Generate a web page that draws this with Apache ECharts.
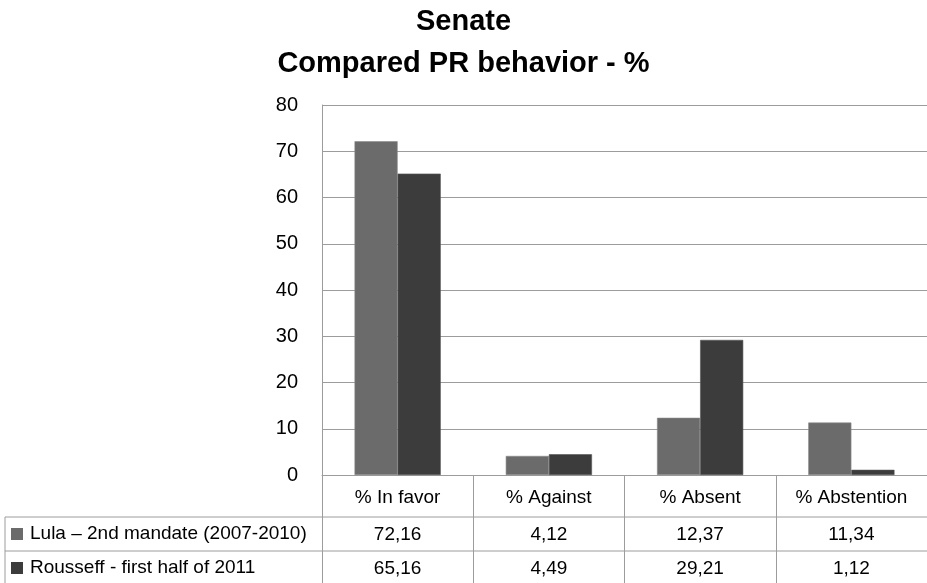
<!DOCTYPE html>
<html>
<head>
<meta charset="utf-8">
<script src="https://cdn.jsdelivr.net/npm/echarts@6/dist/echarts.min.js"></script>
<style>
  html, body { margin: 0; padding: 0; background: #fff; }
  #chart { width: 927px; height: 583px; }
</style>
</head>
<body>
<div id="chart"></div>
<script>
// Vote shares of the PR party in the Senate, per category
const categories = ['% In favor', '% Against', '% Absent', '% Abstention'];
const seriesNames = ['Lula \u2013 2nd mandate (2007-2010)', 'Rousseff - first half of 2011'];
const lulaValues = [72.16, 4.12, 12.37, 11.34];
const rousseffValues = [65.16, 4.49, 29.21, 1.12];
const yTicks = { min: 0, max: 80, step: 10 };

const SANS = "'Liberation Sans', Arial, sans-serif";
const LINE = '#9c9c9c';

// decimal comma, as printed in the data table
const fmt = v => v.toFixed(2).replace('.', ',');

const chart = echarts.init(document.getElementById('chart'), null, { renderer: 'canvas' });

chart.setOption({
  animation: false,
  backgroundColor: '#fff',
  color: ['#6b6b6b', '#3c3c3c'],
  title: {
    text: 'Senate\nCompared PR behavior - %',
    left: 'center',
    top: 1,
    padding: 0,
    textStyle: {
      fontFamily: SANS,
      fontWeight: 'bold',
      fontSize: 29,
      lineHeight: 42,
      color: '#000'
    }
  },
  legend: {
    orient: 'vertical',
    left: 11,
    top: 522,
    padding: 0,
    itemWidth: 12,
    itemHeight: 12,
    itemGap: 10,
    icon: 'rect',
    selectedMode: false,
    itemStyle: { borderWidth: 0 },
    textStyle: {
      fontFamily: SANS,
      fontSize: 19,
      lineHeight: 24,
      color: '#000',
      padding: [0, 0, 0, 2]
    },
    data: seriesNames
  },
  grid: {
    left: 322,
    right: -3,
    top: 105,
    bottom: 108,
    containLabel: false
  },
  xAxis: {
    type: 'category',
    data: categories,
    axisLine: { show: true, lineStyle: { color: LINE, width: 1 } },
    axisTick: { show: true, length: 108, lineStyle: { color: LINE, width: 1 } },
    splitLine: { show: false },
    axisLabel: {
      interval: 0,
      margin: 3,
      formatter: (value, idx) =>
        '{h|' + value + '}\n{v|' + fmt(lulaValues[idx]) + '}\n{v|' + fmt(rousseffValues[idx]) + '}',
      rich: {
        h: { fontFamily: SANS, fontSize: 19, lineHeight: 40, color: '#000', align: 'center' },
        v: { fontFamily: SANS, fontSize: 19, lineHeight: 34, color: '#000', align: 'center' }
      }
    }
  },
  yAxis: {
    type: 'value',
    min: yTicks.min,
    max: yTicks.max,
    interval: yTicks.step,
    axisLine: { show: true, lineStyle: { color: LINE, width: 1 } },
    axisTick: { show: false },
    splitLine: { show: true, lineStyle: { color: LINE, width: 1.2 } },
    axisLabel: {
      margin: 24,
      fontFamily: SANS,
      fontSize: 20,
      color: '#000'
    }
  },
  series: [
    {
      name: seriesNames[0],
      type: 'bar',
      data: lulaValues,
      barGap: '0%',
      barCategoryGap: '43%',
      itemStyle: { borderColor: '#8a8a8a', borderWidth: 0.6 }
    },
    {
      name: seriesNames[1],
      type: 'bar',
      data: rousseffValues,
      barGap: '0%',
      barCategoryGap: '43%',
      itemStyle: { borderColor: '#555', borderWidth: 0.6 }
    }
  ],
  // data-table rules under the plot: row separators and the left border of the series column
  graphic: [
    { type: 'line', shape: { x1: 5, y1: 517, x2: 927, y2: 517 }, style: { stroke: LINE, lineWidth: 1 } },
    { type: 'line', shape: { x1: 5, y1: 551, x2: 927, y2: 551 }, style: { stroke: LINE, lineWidth: 1 } },
    { type: 'line', shape: { x1: 5, y1: 517, x2: 5, y2: 583 }, style: { stroke: LINE, lineWidth: 1 } }
  ]
});
</script>
</body>
</html>
